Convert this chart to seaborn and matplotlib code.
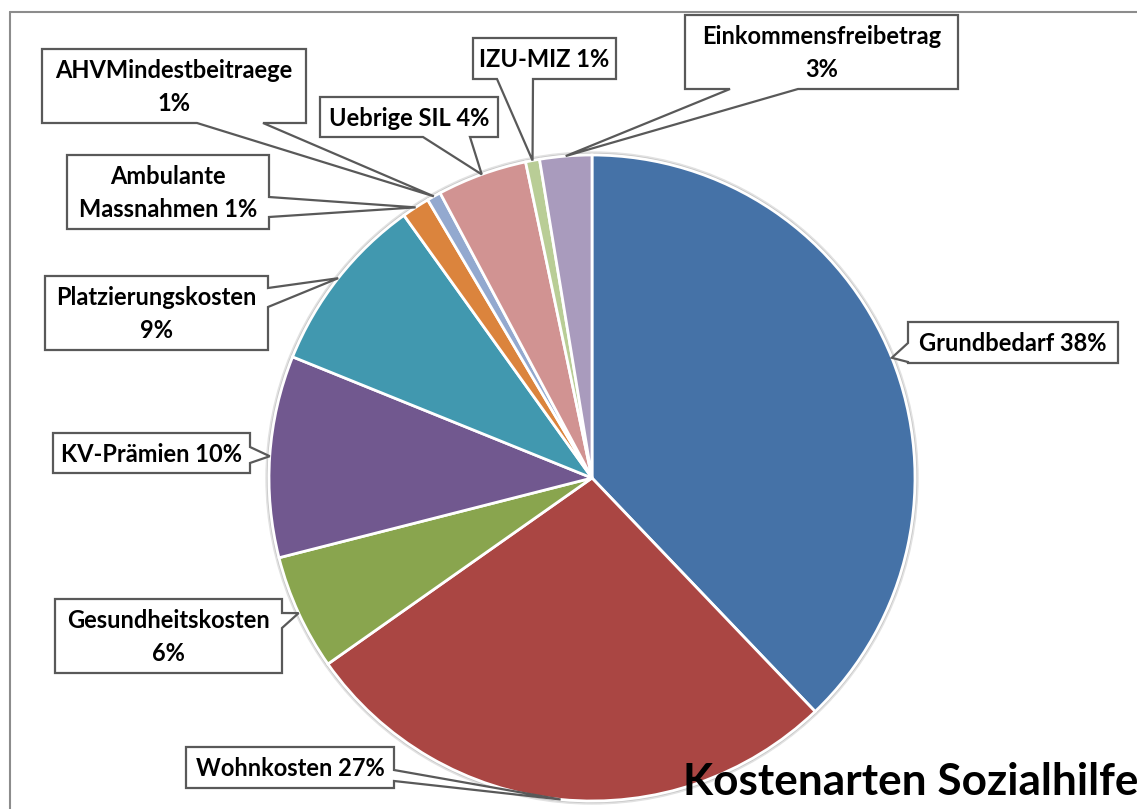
import numpy as np
import matplotlib
matplotlib.use("Agg")
import matplotlib.pyplot as plt
import seaborn as sns
from matplotlib.patches import Polygon, Circle

# data, clockwise from 12 o'clock
categories = ["Grundbedarf", "Wohnkosten", "Gesundheitskosten", "KV-Prämien",
              "Platzierungskosten", "Ambulante Massnahmen", "AHVMindestbeitraege",
              "Uebrige SIL", "IZU-MIZ", "Einkommensfreibetrag"]
shares = [37.9, 27.4, 5.8, 10.1, 9.0, 1.4, 0.7, 4.5, 0.7, 2.6]
colors = ["#4572A7", "#AA4643", "#89A54E", "#71588F", "#4198AF",
          "#DB843D", "#93A9CF", "#D19392", "#B9CD96", "#A99BBD"]
title = "Kostenarten Sozialhilfe"

# label layout in pixel coords: box (x0, y0, x1, y1), pointer side, pointer base
display = {"Ambulante Massnahmen": "Ambulante\nMassnahmen"}
pct_newline = [False, False, True, False, True, False, True, False, False, True]
boxes = [(908, 322, 1118, 363), (186, 747, 394, 788), (55, 599, 282, 673),
         (53, 433, 250, 473), (45, 276, 268, 350), (67, 155, 269, 229),
         (42, 49, 306, 123), (320, 97, 498, 137), (473, 38, 616, 79),
         (685, 15, 958, 89)]
sides = ["left", "right", "right", "right", "right", "right",
         "bottom", "bottom", "bottom", "bottom"]
bases = [(343, 362), (770, 781), (613, 628), (447, 463), (288, 307), (197, 217),
         (197, 263), (423, 470), (497, 533), (730, 798)]

sns.set_theme(style="white")
plt.rcParams["font.family"] = ["Lato", "DejaVu Sans"]

W, H = 1137, 809
fig = plt.figure(figsize=(W / 100, H / 100), dpi=100)
ax = fig.add_axes([0, 0, 1, 1])

cx, cy, r = 592, 478, 323
# soft shadow around the pie
ax.add_patch(Circle((cx, cy), r + 3, color="#e2e2e2", zorder=0))
ax.add_patch(Circle((cx, cy), r + 1.5, color="#c8c8c8", zorder=0))
wedges, _ = ax.pie(shares, colors=colors, startangle=-90, counterclock=True,
                   center=(cx, cy), radius=r,
                   wedgeprops=dict(edgecolor="white", linewidth=2))
ax.set_xlim(0, W)
ax.set_ylim(H, 0)
ax.set_aspect("auto")
ax.axis("off")

total = sum(shares)
cum = np.cumsum([0] + shares[:-1])
for i, name in enumerate(categories):
    mid = (cum[i] + shares[i] / 2) / total * 2 * np.pi
    tip = (cx + r * np.sin(mid), cy - r * np.cos(mid))
    x0, y0, x1, y1 = boxes[i]
    a, b = bases[i]
    if sides[i] == "right":
        pts = [(x0, y0), (x1, y0), (x1, a), tip, (x1, b), (x1, y1), (x0, y1)]
    elif sides[i] == "left":
        pts = [(x0, y0), (x1, y0), (x1, y1), (x0, y1), (x0, b), tip, (x0, a)]
    else:
        pts = [(x0, y0), (x1, y0), (x1, y1), (b, y1), tip, (a, y1), (x0, y1)]
    ax.add_patch(Polygon(pts, closed=True, facecolor="white",
                         edgecolor="#595959", linewidth=1.6, zorder=3))
    pct = round(shares[i])
    label = display.get(name, name) + ("\n" if pct_newline[i] else " ") + f"{pct}%"
    ax.text((x0 + x1) / 2, (y0 + y1) / 2 + 1, label, ha="center", va="center",
            fontsize=17, fontweight="bold", color="black", linespacing=1.5,
            zorder=4)

# chart frame (left and top edges visible)
ax.plot([10, 10], [12, H], color="#8c8c8c", lw=1.5, zorder=1)
ax.plot([10, W], [12, 12], color="#8c8c8c", lw=1.5, zorder=1)

ax.text(683, 795, title, ha="left", va="baseline", fontsize=31.8,
        fontweight="bold", color="black", zorder=5)

fig.savefig("out.png", dpi=100)
